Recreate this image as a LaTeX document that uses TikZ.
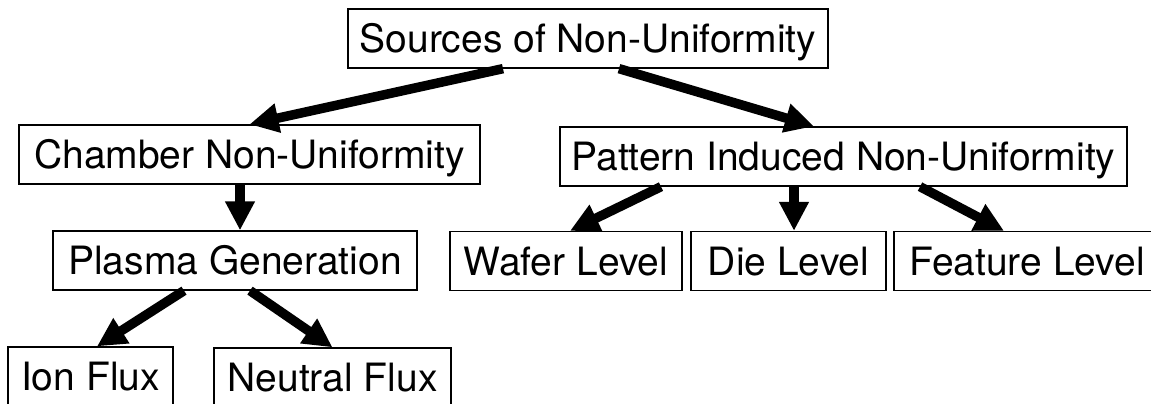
\documentclass[tikz,border=0pt]{standalone}
\usepackage{fontspec}
\setmainfont{TeX Gyre Heros}
\usetikzlibrary{arrows.meta}
\begin{document}
\begin{tikzpicture}[x=1pt,y=-1pt,
    box/.style={draw, line width=1.3pt, inner sep=0pt, minimum height=59pt,
      text height=28pt, text depth=0pt, font=\fontsize{39}{45}\selectfont},
    arr/.style={line width=9.5pt, -{Triangle[length=29pt,width=28pt]}}]
        \useasboundingbox (0,0) rectangle (1151,404);
        \clip (0,0) rectangle (1151,404);

        \node[box, minimum width=480pt] (src) at (588,38.5) {Sources of Non-Uniformity};

        \node[box, minimum width=461pt] (chamber) at (249.5,154.5) {Chamber Non-Uniformity};
        \node[box, minimum width=567pt] (pattern) at (843.5,156.5) {Pattern Induced Non-Uniformity};

        \node[box, minimum width=364pt] (plasma) at (235,260.5) {Plasma Generation};
        \node[box, minimum width=232pt] (wafer) at (566,261) {Wafer Level};
        \node[box, minimum width=195pt] (die) at (788.5,261) {Die Level};
        \node[box, minimum width=266pt] (feature) at (1027,261) {Feature Level};

        \node[box, minimum width=165pt] (ion) at (90.5,376.5) {Ion Flux};
        \node[box, minimum width=237pt] (neutral) at (332.5,377.5) {Neutral Flux};

        \draw[arr] ([xshift=-85pt]src.south) -- (chamber.north);
        \draw[arr] ([xshift=31pt]src.south) -- ([xshift=-29.5pt]pattern.north);

        \draw[arr] ([xshift=-9.5pt]chamber.south) -- ([xshift=5pt]plasma.north);
        \draw[arr] ([xshift=-51pt]plasma.south) -- ([xshift=6.5pt]ion.north);
        \draw[arr] ([xshift=15pt]plasma.south) -- (neutral.north);

        \draw[arr] ([xshift=-182.5pt]pattern.south) -- ([xshift=4pt]wafer.north);
        \draw[arr] ([xshift=-49.5pt]pattern.south) -- ([xshift=5.5pt]die.north);
        \draw[arr] ([xshift=76.5pt]pattern.south) -- ([xshift=-23pt]feature.north);
      \end{tikzpicture}
\end{document}
